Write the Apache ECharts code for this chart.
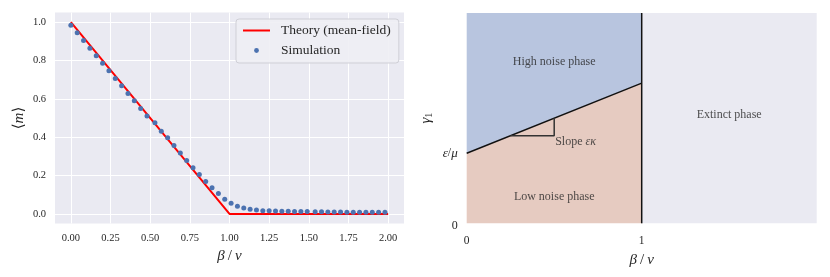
<!DOCTYPE html>
<html>
<head>
<meta charset="utf-8">
<script src="https://cdn.jsdelivr.net/npm/echarts@6/dist/echarts.min.js"></script>
<style>
html,body{margin:0;padding:0;background:#fff;}
#chart{width:830px;height:277px;}
</style>
</head>
<body>
<div id="chart"></div>
<script>
// ---------- Left panel data ----------
const simX = [0.00,0.04,0.08,0.12,0.16,0.20,0.24,0.28,0.32,0.36,0.40,0.44,0.48,0.53,0.57,0.61,0.65,0.69,0.73,0.77,
              0.81,0.85,0.89,0.93,0.97,1.01,1.05,1.09,1.13,1.17,1.21,1.25,1.29,1.33,1.37,1.41,1.45,1.49,1.54,1.58,
              1.62,1.66,1.70,1.74,1.78,1.82,1.86,1.90,1.94,1.98];
const simY = [0.984,0.944,0.904,0.864,0.824,0.786,0.746,0.706,0.668,0.628,0.590,0.550,0.511,0.475,0.431,0.397,0.357,0.317,0.278,0.240,
              0.205,0.169,0.136,0.106,0.077,0.056,0.040,0.031,0.024,0.021,0.017,0.016,0.015,0.014,0.014,0.013,0.012,0.012,0.011,0.011,
              0.010,0.010,0.010,0.009,0.009,0.009,0.008,0.008,0.008,0.008];
const theoryX = [0, 1, 2];
const theoryY = [1, 0, 0];
const leftXTicks = [0, 0.25, 0.5, 0.75, 1.0, 1.25, 1.5, 1.75, 2.0];
const leftYTicks = [0, 0.2, 0.4, 0.6, 0.8, 1.0];

// ---------- Right panel data (phase diagram, units: x = beta/nu, y = gamma_1 with eps/mu = 1) ----------
const highNoiseRegion = [[0,1],[1,2],[1,3],[0,3]];
const lowNoiseRegion  = [[0,0],[1,0],[1,2],[0,1]];
const extinctRegion   = [[1,0],[2,0],[2,3],[1,3]];
const boundaryLine    = [[0,1],[1,2]];
const criticalLine    = [[1,0],[1,3]];
const slopeTriangle   = [[0.25,1.25],[0.5,1.25],[0.5,1.5]];
const rightXTicks = [0, 1];
const rightXTickLabels = ['0', '1'];
const rightYTicks = [0, 1];
const rightYTickLabels = ['{z|0}', '{i|ε}/{i|μ}'];
const phaseLabels = [
  {name: 'High noise phase', value: [0.5, 2.3]},
  {name: 'Low noise phase', value: [0.5, 0.38]},
  {name: 'Extinct phase', value: [1.5, 1.55]}
];
const slopeLabel = {name: 'Slope {i|εκ}', value: [0.5, 1.16]};

const FONT = '"Liberation Serif", "DejaVu Serif", serif';
const TXT = '#262626';

const chart = echarts.init(document.getElementById('chart'), null, {renderer: 'canvas'});

function polygonSeries(points, color) {
  return {
    type: 'custom', xAxisIndex: 1, yAxisIndex: 1, silent: true, z: 1,
    data: [[points[0][0], points[0][1]]],
    renderItem: function (params, api) {
      return {
        type: 'polygon',
        shape: {points: points.map(p => api.coord(p))},
        style: {fill: color, stroke: null}
      };
    }
  };
}
function lineSeries(points, color, width, z) {
  return {
    type: 'line', xAxisIndex: 1, yAxisIndex: 1, silent: true, z: z,
    data: points, symbol: 'none', lineStyle: {color: color, width: width}, clip: false
  };
}

const option = {
  animation: false,
  backgroundColor: '#ffffff',
  textStyle: {fontFamily: FONT},
  grid: [
    {left: 55, top: 12.5, width: 349, height: 211, show: true, backgroundColor: '#eaeaf2', borderWidth: 0},
    {left: 466.7, top: 13, width: 350, height: 210.3, show: false}
  ],
  xAxis: [
    {
      gridIndex: 0, type: 'value', min: -0.1, max: 2.1,
      axisLine: {show: false},
      axisTick: {show: false, customValues: leftXTicks},
      axisLabel: {customValues: leftXTicks, formatter: v => v.toFixed(2), color: TXT, fontFamily: FONT, fontSize: 10.5, margin: 9},
      splitLine: {show: true, lineStyle: {color: '#ffffff', width: 1}},
      name: '{i|β}\u2009/\u2009{i|ν}', nameLocation: 'middle', nameGap: 23,
      nameTextStyle: {fontFamily: FONT, fontSize: 15, color: TXT, rich: {i: {fontStyle: 'italic', fontFamily: FONT, fontSize: 15, color: TXT}}}
    },
    {
      gridIndex: 1, type: 'value', min: 0, max: 2,
      axisLine: {show: false},
      axisTick: {show: false, customValues: rightXTicks},
      axisLabel: {customValues: rightXTicks, formatter: v => rightXTickLabels[rightXTicks.indexOf(v)], color: TXT, fontFamily: FONT, fontSize: 11.5, margin: 12},
      splitLine: {show: false},
      name: '{i|β}\u2009/\u2009{i|ν}', nameLocation: 'middle', nameGap: 23,
      nameTextStyle: {fontFamily: FONT, fontSize: 15, color: TXT, rich: {i: {fontStyle: 'italic', fontFamily: FONT, fontSize: 15, color: TXT}}}
    }
  ],
  yAxis: [
    {
      gridIndex: 0, type: 'value', min: -0.05, max: 1.05,
      axisLine: {show: false},
      axisTick: {show: false, customValues: leftYTicks},
      axisLabel: {customValues: leftYTicks, formatter: v => v.toFixed(1), color: TXT, fontFamily: FONT, fontSize: 10.5, margin: 9},
      splitLine: {show: true, lineStyle: {color: '#ffffff', width: 1}},
      name: '⟨{i|m}⟩', nameLocation: 'middle', nameGap: 28, nameRotate: 90,
      nameTextStyle: {fontFamily: FONT, fontSize: 15, color: TXT, rich: {i: {fontStyle: 'italic', fontFamily: FONT, fontSize: 15, color: TXT}}}
    },
    {
      gridIndex: 1, type: 'value', min: 0, max: 3,
      axisLine: {show: false},
      axisTick: {show: false, customValues: rightYTicks},
      axisLabel: {customValues: rightYTicks, formatter: v => rightYTickLabels[rightYTicks.indexOf(v)], color: TXT, fontFamily: FONT, fontSize: 12, margin: 9,
                  rich: {i: {fontStyle: 'italic', fontFamily: FONT, fontSize: 13, color: TXT},
                         z: {fontFamily: FONT, fontSize: 12, color: TXT, padding: [6, 0, 0, 0]}}},
      splitLine: {show: false},
      name: '{i|γ}{s|1}', nameLocation: 'middle', nameGap: 33, nameRotate: 90,
      nameTextStyle: {fontFamily: FONT, fontSize: 13, color: TXT,
                      rich: {i: {fontStyle: 'italic', fontFamily: FONT, fontSize: 15, color: TXT, lineHeight: 16},
                             s: {fontFamily: FONT, fontSize: 10, color: TXT, padding: [7, 0, 0, 0], lineHeight: 16}}}
    }
  ],
  legend: {
    orient: 'vertical', left: 236, top: 19,
    data: [
      {name: 'Theory (mean-field)', itemStyle: {opacity: 0}},
      {name: 'Simulation', lineStyle: {opacity: 0}}
    ],
    itemWidth: 27, itemHeight: 6, itemGap: 5,
    padding: [4, 8, 5, 6],
    backgroundColor: 'rgba(238,238,244,0.9)', borderColor: '#cfcfd6', borderWidth: 1, borderRadius: 3,
    textStyle: {fontFamily: FONT, fontSize: 13.5, color: TXT, lineHeight: 15, padding: [0, 0, 0, 6]},
    selectedMode: false
  },
  series: [
    {
      name: 'Theory (mean-field)', type: 'line', xAxisIndex: 0, yAxisIndex: 0, z: 3,
      data: theoryX.map((x, i) => [x, theoryY[i]]),
      symbol: 'none', lineStyle: {color: '#ff0000', width: 2}, itemStyle: {color: '#ff0000'}
    },
    {
      name: 'Simulation', type: 'line', xAxisIndex: 0, yAxisIndex: 0, z: 4,
      data: simX.map((x, i) => [x, simY[i]]),
      symbol: 'circle', symbolSize: 5, showSymbol: true, showAllSymbol: true,
      lineStyle: {opacity: 0, width: 0}, itemStyle: {color: '#4c72b0'}
    },
    polygonSeries(highNoiseRegion, '#b8c5df'),
    polygonSeries(lowNoiseRegion, '#e6cbc1'),
    polygonSeries(extinctRegion, '#eaeaf2'),
    lineSeries(boundaryLine, '#111111', 1.5, 5),
    lineSeries(criticalLine, '#111111', 1.5, 5),
    lineSeries(slopeTriangle, '#333333', 1.5, 5),
    {
      type: 'scatter', xAxisIndex: 1, yAxisIndex: 1, silent: true, z: 6,
      symbolSize: 0, data: phaseLabels,
      label: {show: true, position: 'inside', formatter: p => p.name, fontFamily: FONT, fontSize: 12, color: TXT}
    },
    {
      type: 'scatter', xAxisIndex: 1, yAxisIndex: 1, silent: true, z: 6,
      symbolSize: 0, data: [slopeLabel],
      label: {show: true, position: 'right', distance: 1, formatter: p => p.name, fontFamily: FONT, fontSize: 12, color: TXT,
              rich: {i: {fontStyle: 'italic', fontFamily: FONT, fontSize: 12, color: TXT}}}
    }
  ]
};
chart.setOption(option);
</script>
</body>
</html>
